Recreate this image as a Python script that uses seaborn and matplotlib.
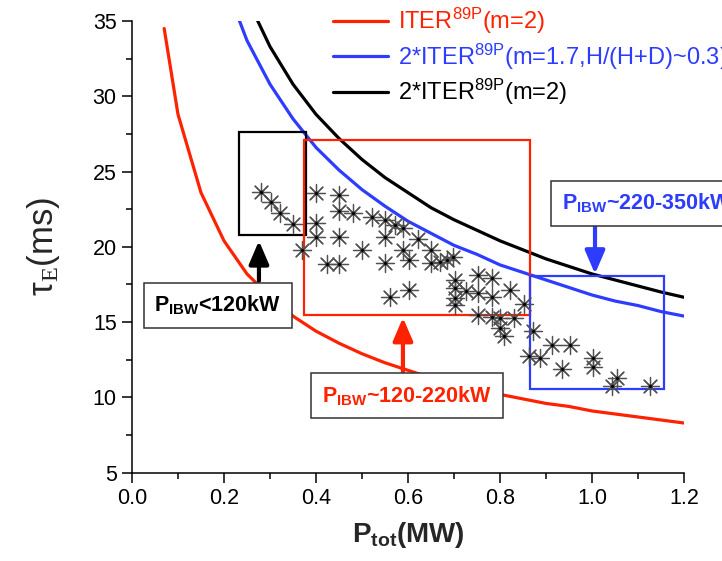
import numpy as np
import pandas as pd
import matplotlib
matplotlib.use("Agg")
import matplotlib.pyplot as plt
import seaborn as sns
from matplotlib.patches import Rectangle

# ---------------- data ----------------
curve_red_x = [0.07, 0.10, 0.15, 0.20, 0.25, 0.30, 0.35, 0.40, 0.45, 0.50, 0.55, 0.60,
               0.65, 0.70, 0.75, 0.80, 0.85, 0.90, 0.95, 1.00, 1.05, 1.10, 1.15, 1.20]
curve_red_y = [34.5, 28.8, 23.6, 20.4, 18.2, 16.7, 15.4, 14.4, 13.6, 12.9, 12.3, 11.8,
               11.3, 10.9, 10.5, 10.2, 9.9, 9.6, 9.4, 9.1, 8.9, 8.7, 8.5, 8.3]

curve_blue_x = [0.20, 0.25, 0.30, 0.35, 0.40, 0.45, 0.50, 0.55, 0.60, 0.65, 0.70, 0.75,
                0.80, 0.85, 0.90, 0.95, 1.00, 1.05, 1.10, 1.15, 1.20]
curve_blue_y = [37.7, 33.7, 30.8, 28.5, 26.6, 25.1, 23.8, 22.7, 21.7, 20.9, 20.1, 19.5,
                18.8, 18.3, 17.8, 17.3, 16.8, 16.4, 16.1, 15.7, 15.4]

curve_black_x = [0.25, 0.30, 0.35, 0.40, 0.45, 0.50, 0.55, 0.60, 0.65, 0.70, 0.75, 0.80,
                 0.85, 0.90, 0.95, 1.00, 1.05, 1.10, 1.15, 1.20]
curve_black_y = [36.5, 33.3, 30.8, 28.8, 27.2, 25.8, 24.6, 23.6, 22.6, 21.8, 21.1, 20.4,
                 19.8, 19.2, 18.7, 18.2, 17.8, 17.4, 17.0, 16.65]

ptot = [0.280, 0.302, 0.322, 0.350, 0.369, 0.400, 0.400, 0.400, 0.451, 0.451,
        0.451, 0.424, 0.451, 0.481, 0.521, 0.551, 0.571, 0.590, 0.551, 0.501,
        0.551, 0.621, 0.589, 0.602, 0.651, 0.651, 0.670, 0.684, 0.698, 0.561,
        0.602, 0.702, 0.702, 0.702, 0.702, 0.726, 0.753, 0.782, 0.753, 0.782,
        0.822, 0.852, 0.753, 0.782, 0.801, 0.831, 0.801, 0.809, 0.872, 0.864,
        0.886, 0.912, 0.952, 0.934, 1.003, 1.003, 1.054, 1.044, 1.125]
tau_e = [23.67, 22.96, 22.23, 21.55, 19.77, 23.58, 21.61, 20.68, 23.45, 22.40,
         20.68, 18.85, 18.85, 22.25, 21.97, 21.79, 21.45, 21.23, 20.64, 19.79,
         18.90, 20.50, 19.80, 19.13, 19.79, 18.90, 19.00, 19.13, 19.35, 16.65,
         17.12, 17.80, 17.25, 16.60, 16.15, 17.10, 18.13, 17.92, 16.92, 16.70,
         17.14, 16.20, 15.48, 15.37, 15.30, 15.30, 14.60, 14.10, 14.44, 12.76,
         12.60, 13.49, 13.49, 11.87, 12.60, 12.00, 11.31, 10.76, 10.78]

legend_labels = ["ITER$^{\\mathrm{89P}}$(m=2)",
                 "2*ITER$^{\\mathrm{89P}}$(m=1.7,H/(H+D)~0.3)",
                 "2*ITER$^{\\mathrm{89P}}$(m=2)"]

# highlight boxes: (x0, x1, y0, y1)
box_low = (0.233, 0.378, 20.77, 27.6)
box_mid = (0.375, 0.865, 15.48, 27.1)
box_high = (0.865, 1.157, 10.55, 18.09)

x_ticks = [0.0, 0.2, 0.4, 0.6, 0.8, 1.0, 1.2]
y_ticks = [5, 10, 15, 20, 25, 30, 35]

RED = "#FF2200"
BLUE = "#2D3CFF"
BLACK = "#000000"

# ---------------- style ----------------
sns.set_theme(style="ticks")
plt.rcParams["font.family"] = ["Liberation Sans", "DejaVu Sans"]
plt.rcParams["mathtext.fontset"] = "custom"
plt.rcParams["mathtext.rm"] = "Liberation Sans"
plt.rcParams["mathtext.it"] = "Liberation Sans:italic"
plt.rcParams["mathtext.bf"] = "Liberation Sans:bold"
plt.rcParams["mathtext.sf"] = "Liberation Serif"

fig = plt.figure(figsize=(7.22, 5.61), dpi=100)
ax = fig.add_axes([0.1828, 0.1574, 0.9474 - 0.1828, 0.9626 - 0.1574])

df_red = pd.DataFrame({"x": curve_red_x, "y": curve_red_y})
df_blue = pd.DataFrame({"x": curve_blue_x, "y": curve_blue_y})
df_black = pd.DataFrame({"x": curve_black_x, "y": curve_black_y})

sns.lineplot(data=df_red, x="x", y="y", ax=ax, color=RED, lw=2.3, sort=False,
             label=legend_labels[0])
sns.lineplot(data=df_blue, x="x", y="y", ax=ax, color=BLUE, lw=2.3, sort=False,
             label=legend_labels[1])
sns.lineplot(data=df_black, x="x", y="y", ax=ax, color=BLACK, lw=2.3, sort=False,
             label=legend_labels[2])

df_pts = pd.DataFrame({"ptot": ptot, "tau": tau_e})
sns.scatterplot(data=df_pts, x="ptot", y="tau", ax=ax, marker=(8, 2, 0), s=170,
                color="#505050", edgecolor="#505050", linewidth=0.9, zorder=3,
                legend=False)
sns.scatterplot(data=df_pts, x="ptot", y="tau", ax=ax, marker="o", s=5,
                color="black", edgecolor="black", linewidth=0, zorder=4,
                legend=False)

# highlight rectangles
for (x0, x1, y0, y1), c in [(box_low, BLACK), (box_mid, RED), (box_high, BLUE)]:
    ax.add_patch(Rectangle((x0, y0), x1 - x0, y1 - y0, fill=False, ec=c, lw=1.6,
                           zorder=2))

ax.set_xlim(0, 1.2)
ax.set_ylim(5, 35)
ax.set_xticks(x_ticks)
ax.set_xticklabels([f"{v:.1f}" for v in x_ticks])
ax.set_yticks(y_ticks)
ax.set_xticks([0.1, 0.3, 0.5, 0.7, 0.9, 1.1], minor=True)
ax.set_yticks([7.5, 12.5, 17.5, 22.5, 27.5, 32.5], minor=True)
ax.tick_params(axis="both", which="major", direction="out", length=7, width=1.1,
               labelsize=15.5, color="black", labelcolor="black", pad=4)
ax.tick_params(axis="both", which="minor", direction="out", length=4, width=1.1,
               color="black")
for s in ["top", "right"]:
    ax.spines[s].set_visible(False)
for s in ["left", "bottom"]:
    ax.spines[s].set_linewidth(1.1)
    ax.spines[s].set_color("black")

ax.set_xlabel("P$_{\\mathbf{tot}}$(MW)", fontsize=20, fontweight="bold", labelpad=8)
ax.set_ylabel("τ$_{\\mathsf{E}}$(ms)", fontsize=25, labelpad=22)

leg = ax.legend(loc="upper left", bbox_to_anchor=(333 / 722, 1 - 6 / 561),
                bbox_transform=fig.transFigure, frameon=False, fontsize=17,
                handlelength=2.35, handletextpad=0.4, labelspacing=0.22,
                borderpad=0, borderaxespad=0, labelcolor="linecolor")

# annotation labels
ax.text(0.187, 16.1, "P$_{\\mathbf{IBW}}$<120kW", fontsize=15.5, fontweight="bold",
        color=BLACK, ha="center", va="center", zorder=6,
        bbox=dict(boxstyle="square,pad=0.5", fc="white", ec="#333333", lw=1.1))
ax.text(0.598, 10.1, "P$_{\\mathbf{IBW}}$~120-220kW", fontsize=15.5, fontweight="bold",
        color=RED, ha="center", va="center", zorder=6,
        bbox=dict(boxstyle="square,pad=0.5", fc="white", ec="#333333", lw=1.1))
ax.text(0.935, 22.9, "P$_{\\mathbf{IBW}}$~220-350kW", fontsize=15.5, fontweight="bold",
        color=BLUE, ha="left", va="center", zorder=6, clip_on=False,
        bbox=dict(boxstyle="square,pad=0.5", fc="white", ec="#333333", lw=1.1))

arrow_kw = dict(arrowstyle="-|>,head_length=0.7,head_width=0.3", lw=3,
                shrinkA=0, shrinkB=0, mutation_scale=20)
ax.annotate("", xy=(0.276, 20.4), xytext=(0.276, 17.74),
            arrowprops=dict(color=BLACK, **arrow_kw), zorder=5)
ax.annotate("", xy=(0.589, 15.3), xytext=(0.589, 11.69),
            arrowprops=dict(color=RED, **arrow_kw), zorder=5)
ax.annotate("", xy=(1.0065, 18.2), xytext=(1.0065, 21.45),
            arrowprops=dict(color=BLUE, **arrow_kw), zorder=5)

fig.savefig("out.png", dpi=100)
